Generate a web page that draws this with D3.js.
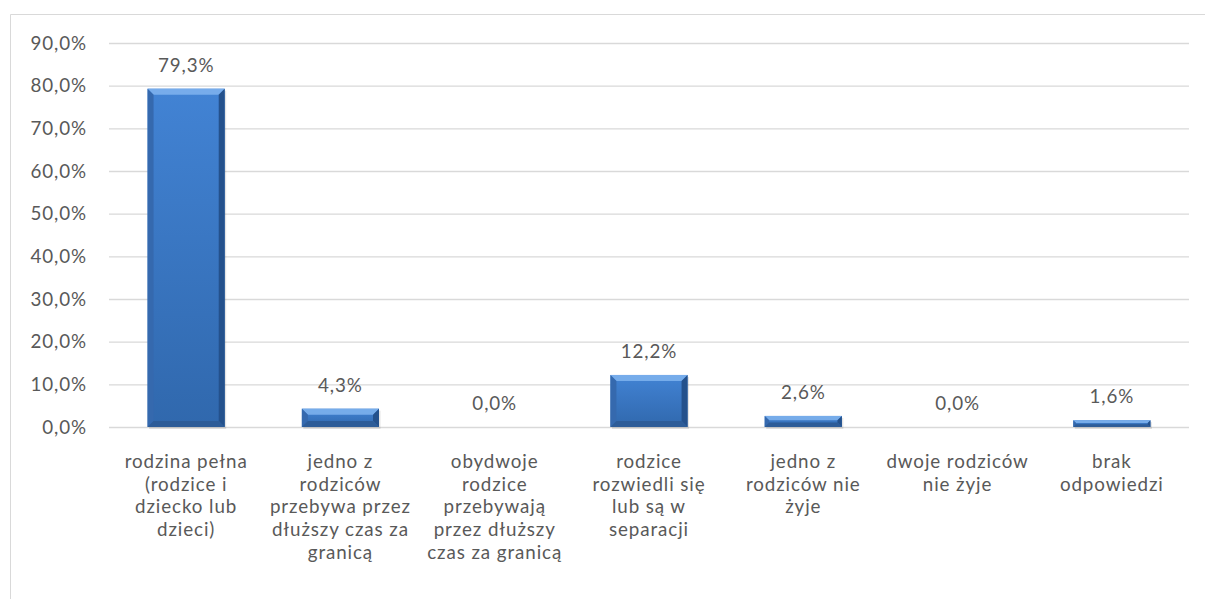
<!DOCTYPE html>
<html>
<head>
<meta charset="utf-8">
<script src="https://cdn.jsdelivr.net/npm/d3@7"></script>
<style>
  body { margin: 0; background: #fff; }
  svg text { font-family: Lato, "Open Sans", sans-serif; fill: #595959; }
</style>
</head>
<body>
<svg id="chart" width="1205" height="599"></svg>
<script>
/*    ========    DATA    =========    */

var categories = [
    "rodzina pełna\n(rodzice i\ndziecko lub\ndzieci)",
    "jedno z\nrodziców\nprzebywa przez\ndłuższy czas za\ngranicą",
    "obydwoje\nrodzice\nprzebywają\nprzez dłuższy\nczas za granicą",
    "rodzice\nrozwiedli się\nlub są w\nseparacji",
    "jedno z\nrodziców nie\nżyje",
    "dwoje rodziców\nnie żyje",
    "brak\nodpowiedzi"
];
var values = [79.3, 4.3, 0.0, 12.2, 2.6, 0.0, 1.6];
var yTicks = [0, 10, 20, 30, 40, 50, 60, 70, 80, 90];

/*    ========    SETTINGS    =========    */

var svg = d3.select("#chart");
var width = 1205, height = 599;
var margin = { left: 109, right: 16, top: 43, bottom: 172 };
var plotW = width - margin.left - margin.right;
var plotH = height - margin.top - margin.bottom;
var FONT = "18.8px";
var SPACING = "0.9px";

var fmt = function(v) { return v.toFixed(1).replace(".", ",") + "%"; };

var x = d3.scaleBand().domain(d3.range(categories.length))
    .range([0, plotW]).paddingInner(0.5).paddingOuter(0.25);
var y = d3.scaleLinear().domain([0, 90]).range([plotH, 0]);

// chart frame (only top and left edges show in the picture)
svg.append("path")
    .attr("d", "M10.5," + height + "V14.5H" + width)
    .attr("fill", "none")
    .attr("stroke", "#d9d9d9");

var defs = svg.append("defs");
var grad = defs.append("linearGradient").attr("id", "face")
    .attr("x1", 0).attr("y1", 0).attr("x2", 0).attr("y2", 1);
grad.append("stop").attr("offset", "0%").attr("stop-color", "#4283d4");
grad.append("stop").attr("offset", "100%").attr("stop-color", "#3068ad");

var g = svg.append("g")
    .attr("transform", "translate(" + margin.left + "," + margin.top + ")");

// gridlines
g.append("g")
    .attr("class", "grid")
    .call(d3.axisLeft(y).tickValues(yTicks).tickSize(-plotW).tickFormat(""))
    .call(function(s) { s.select(".domain").remove(); })
    .selectAll("line")
    .attr("stroke", "#d9d9d9")
    .attr("stroke-width", 1.3);

// y tick labels
g.append("g")
    .call(d3.axisLeft(y).tickValues(yTicks).tickSize(0).tickPadding(22).tickFormat(fmt))
    .call(function(s) { s.select(".domain").remove(); })
    .selectAll("text")
    .style("font-family", "Lato, sans-serif")
    .style("font-size", FONT)
    .style("letter-spacing", SPACING)
    .style("fill", "#595959");

// == bars with a bevel look == //
var bars = g.append("g").selectAll("g")
    .data(values)
    .join("g")
    .attr("transform", function(d, i) { return "translate(" + x(i) + "," + y(d) + ")"; });

bars.each(function(d) {
    var w = x.bandwidth();
    var h = y(0) - y(d);
    if (h <= 0) return;
    var b = Math.min(6, h / 2.5);
    var s = d3.select(this);
    s.append("rect")
        .attr("x", 1.5).attr("y", 2).attr("width", w).attr("height", h)
        .attr("fill", "#000").attr("opacity", 0.1);
    s.append("rect").attr("width", w).attr("height", h).attr("fill", "url(#face)");
    // top bevel
    s.append("path")
        .attr("d", "M0,0H" + w + "L" + (w - b) + "," + b + "H" + b + "Z")
        .attr("fill", "#80b4ef").attr("opacity", 0.85);
    // left bevel
    s.append("path")
        .attr("d", "M0,0L" + b + "," + b + "V" + (h - b) + "L0," + h + "Z")
        .attr("fill", "#3569ae");
    // right bevel
    s.append("path")
        .attr("d", "M" + w + ",0L" + (w - b) + "," + b + "V" + (h - b) + "L" + w + "," + h + "Z")
        .attr("fill", "#24518c");
    // bottom bevel
    s.append("path")
        .attr("d", "M0," + h + "L" + b + "," + (h - b) + "H" + (w - b) + "L" + w + "," + h + "Z")
        .attr("fill", "#2d5c98");
});

// value labels
g.append("g").selectAll("text")
    .data(values)
    .join("text")
    .attr("x", function(d, i) { return x(i) + x.bandwidth() / 2; })
    .attr("y", function(d) { return y(d) - 17; })
    .attr("text-anchor", "middle")
    .style("font-size", FONT)
    .style("letter-spacing", SPACING)
    .text(fmt);

// category labels
var cat = g.append("g").selectAll("text")
    .data(categories)
    .join("text")
    .attr("x", function(d, i) { return x(i) + x.bandwidth() / 2; })
    .attr("y", plotH + 41)
    .attr("text-anchor", "middle")
    .style("font-size", FONT)
    .style("letter-spacing", SPACING);

cat.selectAll("tspan")
    .data(function(d) { return d.split("\n"); })
    .join("tspan")
    .attr("x", function() { return d3.select(this.parentNode).attr("x"); })
    .attr("dy", function(d, i) { return i === 0 ? 0 : 22.7; })
    .text(function(d) { return d; });
</script>
</body>
</html>
